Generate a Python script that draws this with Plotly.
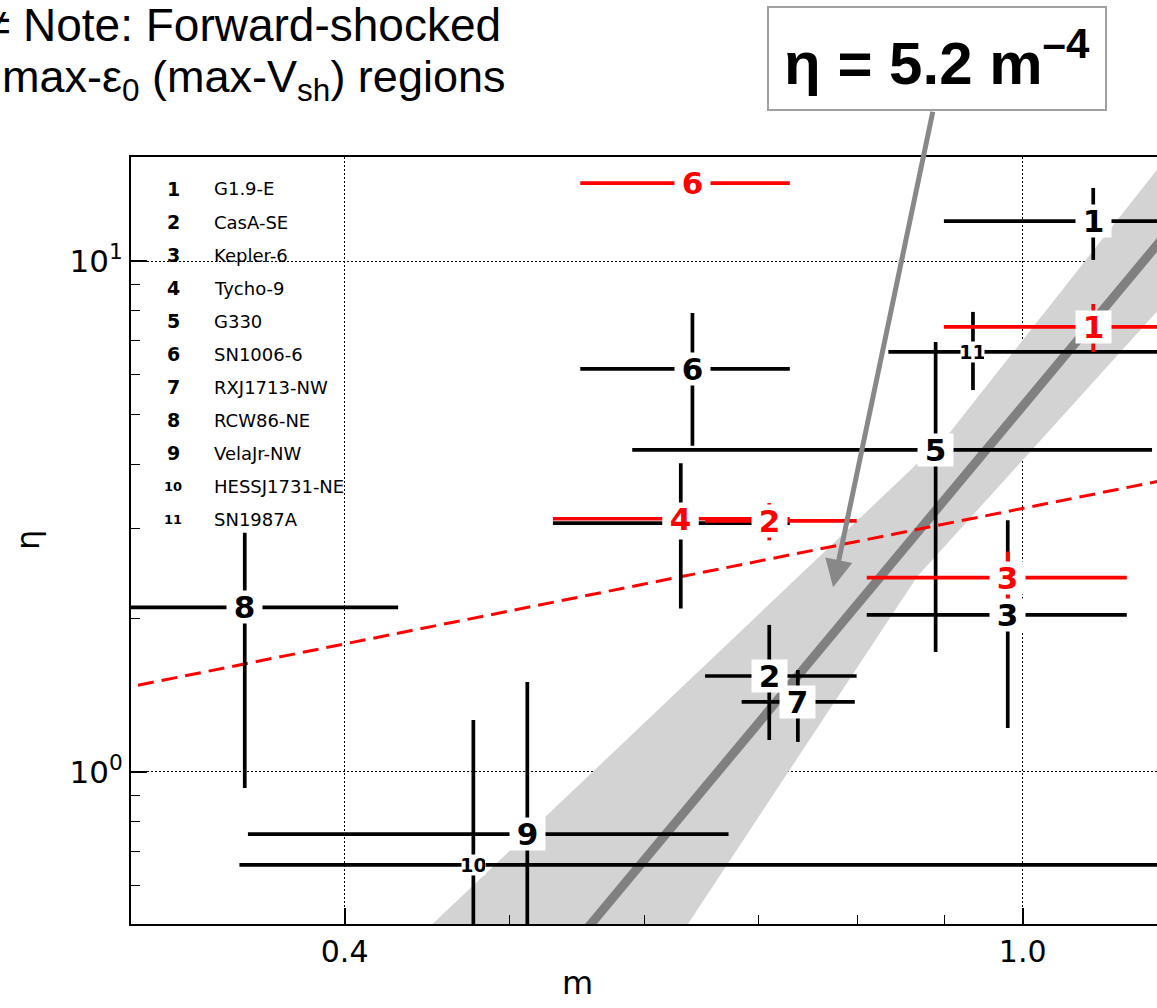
import numpy as np
import plotly.graph_objects as go

# ---------------- data ----------------
region_ids = ["1", "2", "3", "4", "5", "6", "7", "8", "9", "10", "11"]
region_names = ["G1.9-E", "CasA-SE", "Kepler-6", "Tycho-9", "G330", "SN1006-6",
                "RXJ1713-NW", "RCW86-NE", "VelaJr-NW", "HESSJ1731-NE", "SN1987A"]

# all regions (black)
m_val = [1.100, 0.710, 0.980, 0.630, 0.889, 0.640, 0.738, 0.3495, 0.512, 0.476, 0.935]
m_lo = [0.899, 0.651, 0.810, 0.530, 0.590, 0.550, 0.684, 0.280, 0.351, 0.347, 0.834]
m_hi = [1.350, 0.799, 1.151, 0.730, 1.191, 0.730, 0.797, 0.430, 0.672, 1.400, 1.300]
eta_val = [11.97, 1.541, 2.03, 3.07, 4.27, 6.15, 1.371, 2.10, 0.756, 0.658, 6.64]
eta_lo = [10.05, 1.155, 1.219, 2.09, 1.717, 4.35, 1.145, 0.930, 0.400, 0.400, 5.59]
eta_hi = [13.90, 1.940, 3.110, 4.02, 6.940, 7.91, 1.583, 2.940, 1.500, 1.264, 7.95]

# forward-shocked max-eps0 regions (red)
red_ids = ["1", "2", "3", "4", "6"]
red_m_val = [1.100, 0.710, 0.980, 0.630, 0.640]
red_m_lo = [0.899, 0.651, 0.810, 0.530, 0.550]
red_m_hi = [1.350, 0.799, 1.151, 0.730, 0.730]
red_eta_val = [7.43, 3.10, 2.40, 3.13, 14.21]
red_eta_lo = [6.64, 2.84, 2.17, 2.88, 13.22]
red_eta_hi = [8.24, 3.36, 2.70, 3.36, 15.28]

# power-law fit eta = A m^k and its uncertainty envelope
fit_coef, fit_index = 5.2, 4.0
band_upper_m = [0.40, 0.906, 1.25]
band_upper_eta = [0.346, 4.61, 18.0]
band_lower_m = [0.40, 0.867, 1.25]
band_lower_eta = [0.0483, 2.41, 9.29]

# reference relation (red dashed)
ref_coef, ref_index = 3.28, 2.0 / 3.0

x_ticks = [0.4, 1.0]
x_ticktext = ["0.4", "1.0"]
x_minor = [0.5, 0.6, 0.7, 0.8, 0.9]
y_ticks = [1, 10]
y_ticktext = ["10<sup>0</sup>", "10<sup>1</sup>"]
y_minor = [0.6, 0.7, 0.8, 0.9, 2, 3, 4, 5, 6, 7, 8, 9]

# ---------------- layout geometry ----------------
W, H = 1157, 1008
L, R, T, B = 131, 0, 157, 84
x_range = [np.log10(0.2997), np.log10(1.199)]
y_range = [np.log10(0.504), np.log10(15.98)]
PW, PH = W - L - R, H - T - B


def px_x(px):
    return (px - L) / PW


def px_y(py):
    return (H - B - py) / PH


CHART_FONT = "DejaVu Sans"
SLIDE_FONT = "Liberation Sans, Arial, Helvetica"

fig = go.Figure()

# uncertainty band
band_x = band_upper_m + band_lower_m[::-1]
band_y = band_upper_eta + band_lower_eta[::-1]
fig.add_trace(go.Scatter(x=band_x, y=band_y, mode="lines", fill="toself",
                         fillcolor="#d3d3d3", line=dict(width=0),
                         hoverinfo="skip", showlegend=False))

# best-fit power law
fit_m = np.array([0.25, 1.4])
fig.add_trace(go.Scatter(x=fit_m, y=fit_coef * fit_m ** fit_index, mode="lines",
                         line=dict(color="#808080", width=9),
                         hoverinfo="skip", showlegend=False))

# reference relation
ref_m = np.array([0.25, 1.4])
fig.add_trace(go.Scatter(x=ref_m, y=ref_coef * ref_m ** ref_index, mode="lines",
                         line=dict(color="#ff0000", width=3, dash="16px,8px"),
                         hoverinfo="skip", showlegend=False))


def err_trace(mv, mlo, mhi, ev, elo, ehi, color):
    mv, mlo, mhi = map(np.array, (mv, mlo, mhi))
    ev, elo, ehi = map(np.array, (ev, elo, ehi))
    return go.Scatter(
        x=mv, y=ev, mode="markers",
        marker=dict(size=1, color="rgba(0,0,0,0)"),
        error_x=dict(type="data", symmetric=False, array=mhi - mv,
                     arrayminus=mv - mlo, color=color, thickness=3.7, width=0),
        error_y=dict(type="data", symmetric=False, array=ehi - ev,
                     arrayminus=ev - elo, color=color, thickness=3.7, width=0),
        hoverinfo="skip", showlegend=False)


fig.add_trace(err_trace(m_val, m_lo, m_hi, eta_val, eta_lo, eta_hi, "black"))
fig.add_trace(err_trace(red_m_val, red_m_lo, red_m_hi,
                        red_eta_val, red_eta_lo, red_eta_hi, "#ff0000"))

annotations = []


def point_label(label, m, eta, color):
    size = 19 if len(label) > 1 else 31
    return dict(x=np.log10(m), y=np.log10(eta), xref="x", yref="y",
                text="<b>%s</b>" % label, showarrow=False,
                xanchor="center", yanchor="middle",
                font=dict(family=CHART_FONT, size=size, color=color),
                bgcolor="white", borderpad=0,
                width=size + 4, height=size + 1)


for lab, m, e in zip(region_ids, m_val, eta_val):
    annotations.append(point_label(lab, m, e, "black"))
for lab, m, e in zip(red_ids, red_m_val, red_eta_val):
    annotations.append(point_label(lab, m, e, "#ff0000"))

# key listing the region numbers
for i, (lab, name) in enumerate(zip(region_ids, region_names)):
    py = 189 + 33 * i
    annotations.append(dict(x=px_x(173), y=px_y(py), xref="paper", yref="paper",
                            text="<b>%s</b>" % lab, showarrow=False,
                            xanchor="center", yanchor="middle",
                            font=dict(family=CHART_FONT,
                                      size=13 if len(lab) > 1 else 19,
                                      color="black")))
    annotations.append(dict(x=px_x(212), y=px_y(py), xref="paper", yref="paper",
                            text=name, showarrow=False,
                            xanchor="left", yanchor="middle",
                            font=dict(family=CHART_FONT, size=18, color="black")))

# axis titles
annotations.append(dict(x=px_x(577), y=px_y(983), xref="paper", yref="paper",
                        text="m", showarrow=False,
                        xanchor="center", yanchor="middle",
                        font=dict(family=CHART_FONT, size=32, color="black")))
annotations.append(dict(x=px_x(28), y=px_y(540), xref="paper", yref="paper",
                        text="η", showarrow=False, textangle=-90,
                        xanchor="center", yanchor="middle",
                        font=dict(family=CHART_FONT, size=32, color="black")))

# note text
annotations.append(dict(x=px_x(-17), y=px_y(25), xref="paper", yref="paper",
                        text="≠ Note: Forward-shocked", showarrow=False,
                        xanchor="left", yanchor="middle",
                        font=dict(family=SLIDE_FONT, size=46, color="black")))
annotations.append(dict(x=px_x(0), y=px_y(79), xref="paper", yref="paper",
                        text="max-ε<sub>0</sub> (max-V<sub>sh</sub>) regions",
                        showarrow=False, xanchor="left", yanchor="middle",
                        font=dict(family=SLIDE_FONT, size=45, color="black")))

# fit annotation box and arrow
tip_m, tip_eta = 0.774, 2.30
annotations.append(dict(x=np.log10(tip_m), y=np.log10(tip_eta), xref="x", yref="y",
                        text="", showarrow=True, ax=100, ay=-477,
                        arrowcolor="#888888", arrowwidth=5, arrowhead=2,
                        arrowsize=1.1, standoff=0))
annotations.append(dict(x=px_x(937), y=px_y(58.5), xref="paper", yref="paper",
                        text="<b>η = 5.2 m<sup>–4</sup></b>", showarrow=False,
                        xanchor="center", yanchor="middle",
                        width=336, height=101, borderpad=0,
                        bgcolor="white", bordercolor="#a0a0a0", borderwidth=2,
                        font=dict(family=SLIDE_FONT, size=60, color="black")))

fig.update_layout(
    width=W, height=H,
    margin=dict(l=L, r=R, t=T, b=B, pad=0),
    paper_bgcolor="white", plot_bgcolor="white",
    showlegend=False,
    annotations=annotations,
    font=dict(family=CHART_FONT, color="black"),
)

fig.update_xaxes(
    type="log", range=x_range,
    tickvals=x_ticks, ticktext=x_ticktext,
    ticks="inside", ticklen=16, tickwidth=1.5, tickcolor="black",
    tickfont=dict(family=CHART_FONT, size=30, color="black"),
    showline=True, linewidth=2, linecolor="black", mirror=True,
    showgrid=True, gridcolor="black", gridwidth=1, griddash="1.5px,2.5px",
    minor=dict(tickvals=x_minor, ticks="inside", ticklen=9, tickwidth=1.2,
               tickcolor="black", showgrid=False),
    zeroline=False,
)
fig.update_yaxes(
    type="log", range=y_range,
    tickvals=y_ticks, ticktext=y_ticktext,
    ticks="inside", ticklen=16, tickwidth=1.5, tickcolor="black",
    tickfont=dict(family=CHART_FONT, size=31, color="black"),
    showline=True, linewidth=2, linecolor="black", mirror=False,
    showgrid=True, gridcolor="black", gridwidth=1, griddash="1.5px,2.5px",
    minor=dict(tickvals=y_minor, ticks="inside", ticklen=9, tickwidth=1.2,
               tickcolor="black", showgrid=False),
    zeroline=False,
)

fig.write_html("out.html")
